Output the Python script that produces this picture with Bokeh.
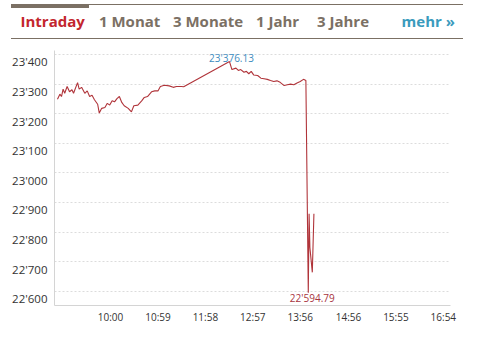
from bokeh.plotting import figure
from bokeh.layouts import column
from bokeh.models import Range1d, LinearAxis, FixedTicker, Label, Div
from bokeh.embed import file_html
from bokeh.resources import INLINE

# ---- data (minutes since midnight, index level) ----
times = [534, 537, 539, 541, 543, 546, 549, 552, 554, 559, 561, 564, 568, 571, 574,
         577, 580, 584, 586, 589, 593, 596, 599, 602, 605, 608, 611, 614, 617, 622,
         626, 629, 634, 639, 642, 646, 651, 655, 659, 662, 667, 673, 678, 682, 688,
         691,
         748, 751, 756, 759, 762, 766, 769, 772, 775, 778, 783, 787, 791, 795, 799,
         803, 807, 811, 816, 820, 824, 828, 832, 836, 840, 843,
         846, 847, 848, 851, 853]
prices = [23249, 23266, 23258, 23283, 23269, 23292, 23274, 23281, 23269, 23305, 23283,
          23289, 23269, 23277, 23258, 23262, 23247, 23232, 23202, 23218, 23221, 23235,
          23229, 23244, 23240, 23251, 23258, 23238, 23227, 23218, 23206, 23227, 23229,
          23244, 23255, 23258, 23274, 23277, 23277, 23292, 23296, 23294, 23289, 23292,
          23292, 23291,
          23376.13, 23349, 23354, 23346, 23349, 23340, 23343, 23335, 23343, 23331, 23329,
          23320, 23318, 23316, 23312, 23309, 23311, 23306, 23295, 23298, 23300, 23298,
          23304, 23309, 23316, 23312,
          22594.79, 22862, 22748, 22664, 22862]

x_ticks = [600, 659, 718, 777, 836, 896, 955, 1014]
x_tick_labels = ["10:00", "10:59", "11:58", "12:57", "13:56", "14:56", "15:55", "16:54"]
y_ticks = [22600, 22700, 22800, 22900, 23000, 23100, 23200, 23300, 23400]

tabs = ["Intraday", "1 Monat", "3 Monate", "1 Jahr", "3 Jahre"]
more_label = "mehr \u00bb"


def swiss(v, dec=0):
    return f"{v:,.{dec}f}".replace(",", "'")


W = 482
HDR_H = 46
H = 345 - HDR_H

# ---------------- header (HTML tabs) ----------------
hdr_line = "#7b7064"
tab_x = [20.5, 99, 173, 256, 317]
tab_colors = ["#c3262d"] + ["#7b7064"] * 4
text_top = 14.2
parts = [
    f'<div style="position:absolute;left:11px;top:4px;width:452px;height:1px;background:{hdr_line}"></div>',
    f'<div style="position:absolute;left:11px;top:4px;width:78px;height:4px;background:{hdr_line}"></div>',
    f'<div style="position:absolute;left:11px;top:38px;width:452px;height:1px;background:{hdr_line}"></div>',
]
for name, xpos, col in zip(tabs, tab_x, tab_colors):
    parts.append(f'<span style="position:absolute;left:{xpos}px;top:{text_top}px;'
                 f'line-height:15px;white-space:nowrap;color:{col}">{name}</span>')
parts.append(f'<span style="position:absolute;right:{W - 455}px;top:{text_top}px;'
             f'line-height:15px;white-space:nowrap;color:#3a9bbd">{more_label}</span>')
html = ('<div style="position:relative;width:482px;height:46px;margin:0;padding:0;'
        "font-family:'Open Sans',sans-serif;font-weight:bold;font-size:15px;\">"
        + "".join(parts) + "</div>")
hdr = Div(text=html, width=W, height=HDR_H, margin=(0, 0, 0, 0))

# ---------------- chart ----------------
LEFT, RIGHT, TOP, BOTTOM = 54, 32, 4, 40
Y0, Y1 = 22552, 23413.5
LABEL_SHIFT = 25  # y labels sit ~7px below their gridline

p = figure(width=W, height=H, output_backend="svg", toolbar_location=None,
           x_range=Range1d(530.3, 1022.9), y_range=Range1d(Y0, Y1),
           y_axis_location=None,
           min_border_left=LEFT, min_border_right=RIGHT,
           min_border_top=TOP, min_border_bottom=BOTTOM)
p.outline_line_color = None

xa = p.xaxis[0]
xa.ticker = FixedTicker(ticks=x_ticks)
xa.major_label_overrides = {t: l for t, l in zip(x_ticks, x_tick_labels)}
xa.axis_line_color = "#d4d4d4"
xa.major_tick_line_color = None
xa.minor_tick_line_color = None
xa.major_tick_out = 0
xa.major_tick_in = 0
xa.major_label_standoff = 4
xa.major_label_text_font = "Open Sans"
xa.major_label_text_font_size = "10px"
xa.major_label_text_color = "#333333"
p.xgrid.visible = False

p.ygrid.ticker = FixedTicker(ticks=y_ticks)
p.ygrid.grid_line_color = "#dcdcdc"
p.ygrid.grid_line_dash = "2 2"

p.extra_y_ranges = {"lab": Range1d(Y0 + LABEL_SHIFT, Y1 + LABEL_SHIFT)}
ya = LinearAxis(y_range_name="lab", ticker=FixedTicker(ticks=y_ticks))
ya.major_label_overrides = {t: swiss(t) for t in y_ticks}
ya.axis_line_color = "#d4d4d4"
ya.major_tick_line_color = None
ya.minor_tick_line_color = None
ya.major_tick_out = 0
ya.major_tick_in = 0
ya.major_label_standoff = 7
ya.major_label_text_font = "Open Sans"
ya.major_label_text_font_size = "11.5px"
ya.major_label_text_color = "#333333"
p.add_layout(ya, "left")

p.line(times, prices, line_color="#b0343a", line_width=1.1)

vmax = max(prices)
vmin = min(prices)
tmax = times[prices.index(vmax)]
tmin = times[prices.index(vmin)]
p.add_layout(Label(x=tmax, y=vmax, text=swiss(vmax, 2), x_offset=2, y_offset=4,
                   text_align="center", text_baseline="alphabetic",
                   text_font="Open Sans", text_font_size="10px", text_color="#3d8cc0"))
p.add_layout(Label(x=tmin, y=vmin, text=swiss(vmin, 2), x_offset=4, y_offset=2,
                   text_align="center", text_baseline="top",
                   text_font="Open Sans", text_font_size="10px", text_color="#a8343e"))

layout = column(hdr, p, spacing=0)
open("out.html", "w").write(file_html(layout, INLINE))
